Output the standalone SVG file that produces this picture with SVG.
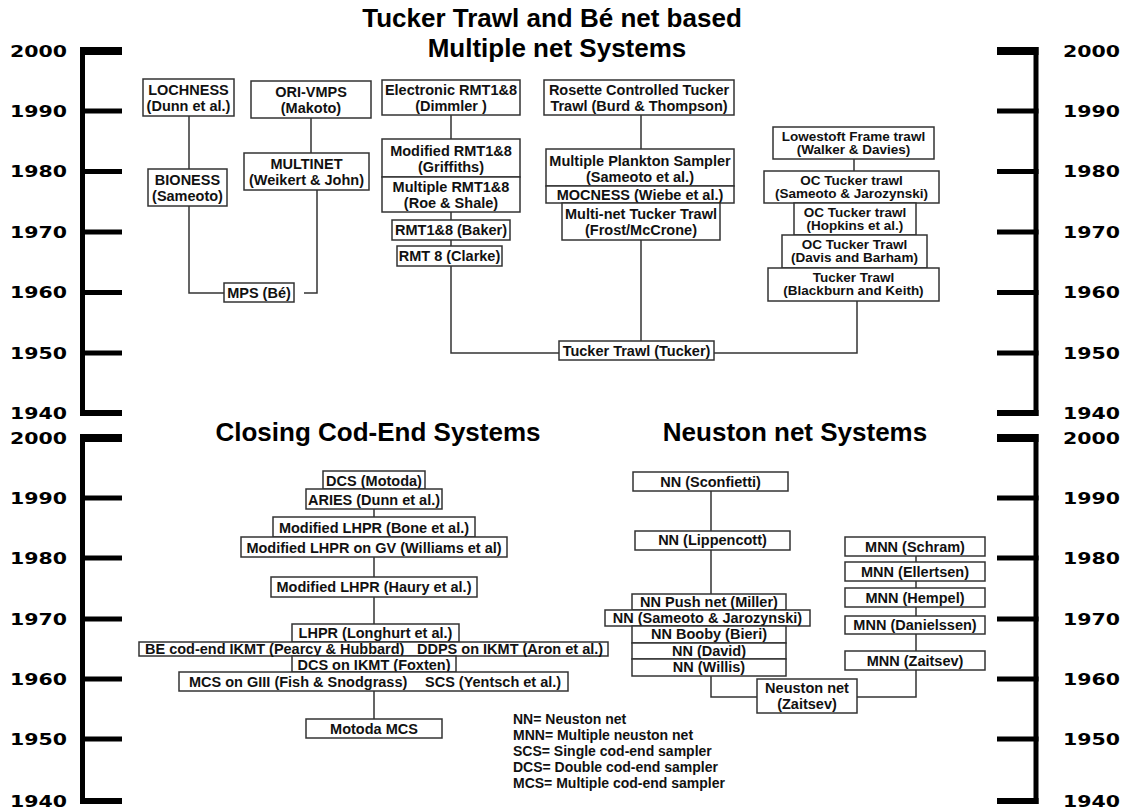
<svg xmlns="http://www.w3.org/2000/svg" width="1130" height="809" viewBox="0 0 1130 809">
<style>
.b{fill:#fff;stroke:#333;stroke-width:1.5}
.t{font-family:"Liberation Sans",Arial,sans-serif;font-weight:bold;font-size:14.5px;fill:#111;text-anchor:middle}
.s{font-size:13.5px}
.tl{font-family:"Liberation Sans",Arial,sans-serif;font-weight:bold;font-size:14.5px;fill:#111}
.h{font-family:"Liberation Sans",Arial,sans-serif;font-weight:bold;font-size:26px;fill:#000;text-anchor:middle}
.y{font-family:"DejaVu Sans",sans-serif;font-weight:bold;font-size:15px;fill:#000}
.ax{stroke:#000;stroke-width:5;fill:none}
.c{stroke:#333;stroke-width:1.5;fill:none}
.lg{font-family:"Liberation Sans",Arial,sans-serif;font-weight:bold;font-size:14px;fill:#111}
</style>
<g id="titles">
<text class="h" x="552" y="27">Tucker Trawl and Bé net based</text>
<text class="h" x="557" y="57">Multiple net Systems</text>
<text class="h" x="378" y="441">Closing Cod-End Systems</text>
<text class="h" x="795" y="441">Neuston net Systems</text>
</g>
<g id="axes">
<path class="ax" d="M82.5,47V416M1036,47V416M82.5,434V804M1036,434V804"/>
<path class="ax" d="M80,111H122M80,171.5H122M80,232H122M80,292.5H122M80,353H122M80,498H122M80,558H122M80,619H122M80,679H122M80,739H122"/>
<path class="ax" d="M997,111H1038.5M997,171.5H1038.5M997,232H1038.5M997,292.5H1038.5M997,353H1038.5M997,498H1038.5M997,558H1038.5M997,619H1038.5M997,679H1038.5M997,739H1038.5"/>
<rect x="80" y="47" width="42" height="8"/><rect x="80" y="410" width="42" height="6"/>
<rect x="80" y="434" width="42" height="8"/><rect x="80" y="798" width="42" height="6"/>
<rect x="997" y="47" width="41.5" height="8"/><rect x="997" y="410" width="41.5" height="6"/>
<rect x="997" y="434" width="41.5" height="8"/><rect x="997" y="798" width="41.5" height="6"/>
<g class="y">
<text x="10" y="57" textLength="57" lengthAdjust="spacingAndGlyphs">2000</text>
<text x="10" y="117" textLength="57" lengthAdjust="spacingAndGlyphs">1990</text>
<text x="10" y="177" textLength="57" lengthAdjust="spacingAndGlyphs">1980</text>
<text x="10" y="238" textLength="57" lengthAdjust="spacingAndGlyphs">1970</text>
<text x="10" y="298" textLength="57" lengthAdjust="spacingAndGlyphs">1960</text>
<text x="10" y="359" textLength="57" lengthAdjust="spacingAndGlyphs">1950</text>
<text x="10" y="419" textLength="57" lengthAdjust="spacingAndGlyphs">1940</text>
<text x="10" y="444" textLength="57" lengthAdjust="spacingAndGlyphs">2000</text>
<text x="10" y="504" textLength="57" lengthAdjust="spacingAndGlyphs">1990</text>
<text x="10" y="564" textLength="57" lengthAdjust="spacingAndGlyphs">1980</text>
<text x="10" y="625" textLength="57" lengthAdjust="spacingAndGlyphs">1970</text>
<text x="10" y="685" textLength="57" lengthAdjust="spacingAndGlyphs">1960</text>
<text x="10" y="745" textLength="57" lengthAdjust="spacingAndGlyphs">1950</text>
<text x="10" y="807" textLength="57" lengthAdjust="spacingAndGlyphs">1940</text>
<text x="1063" y="57" textLength="57" lengthAdjust="spacingAndGlyphs">2000</text>
<text x="1063" y="117" textLength="57" lengthAdjust="spacingAndGlyphs">1990</text>
<text x="1063" y="177" textLength="57" lengthAdjust="spacingAndGlyphs">1980</text>
<text x="1063" y="238" textLength="57" lengthAdjust="spacingAndGlyphs">1970</text>
<text x="1063" y="298" textLength="57" lengthAdjust="spacingAndGlyphs">1960</text>
<text x="1063" y="359" textLength="57" lengthAdjust="spacingAndGlyphs">1950</text>
<text x="1063" y="419" textLength="57" lengthAdjust="spacingAndGlyphs">1940</text>
<text x="1063" y="444" textLength="57" lengthAdjust="spacingAndGlyphs">2000</text>
<text x="1063" y="504" textLength="57" lengthAdjust="spacingAndGlyphs">1990</text>
<text x="1063" y="564" textLength="57" lengthAdjust="spacingAndGlyphs">1980</text>
<text x="1063" y="625" textLength="57" lengthAdjust="spacingAndGlyphs">1970</text>
<text x="1063" y="685" textLength="57" lengthAdjust="spacingAndGlyphs">1960</text>
<text x="1063" y="745" textLength="57" lengthAdjust="spacingAndGlyphs">1950</text>
<text x="1063" y="807" textLength="57" lengthAdjust="spacingAndGlyphs">1940</text>
</g>
</g>
<g id="connectors">
<path class="c" d="M189,116V169M189,206V293H224M311,118V153M317,190V293H304"/>
<path class="c" d="M451,115V139M451,212V220M451,240V246M451,266V353H559M641,115V149M641,240V341M714,353H857V301M854,159V171"/>
<path class="c" d="M374,509V517M374,557V577M374,597V624M374,691V719"/>
<path class="c" d="M711,491V531M711,550V594M711,676V697H757M857,697H916V670M916,556V562M916,581V588M916,607V616M916,634V651"/>
</g>
<g id="n-lochness"><rect class="b" x="143" y="79" width="91" height="37"/><text class="t" x="188.5" y="95">LOCHNESS</text><text class="t" x="188.5" y="111">(Dunn et al.)</text></g>
<g id="n-orivmps"><rect class="b" x="251" y="81" width="120" height="37"/><text class="t" x="311" y="97">ORI-VMPS</text><text class="t" x="311" y="113">(Makoto)</text></g>
<g id="n-bioness"><rect class="b" x="148" y="169" width="79" height="37"/><text class="t" x="187.5" y="185">BIONESS</text><text class="t" x="187.5" y="201">(Sameoto)</text></g>
<g id="n-multinet"><rect class="b" x="244" y="153" width="125" height="37"/><text class="t" x="306.5" y="169">MULTINET</text><text class="t" x="306.5" y="185">(Weikert &amp; John)</text></g>
<g id="n-mps"><rect class="b" x="224" y="283" width="70" height="19"/><text class="t" x="259" y="298">MPS (Bé)</text></g>
<g id="n-ermt"><rect class="b" x="382" y="80" width="138" height="35"/><text class="t" x="451" y="95">Electronic RMT1&amp;8</text><text class="t" x="451" y="111">(Dimmler )</text></g>
<g id="n-mrmt"><rect class="b" x="382" y="139" width="138" height="38"/><text class="t" x="451" y="156">Modified RMT1&amp;8</text><text class="t" x="451" y="172">(Griffiths)</text></g>
<g id="n-multrmt"><rect class="b" x="382" y="177" width="138" height="35"/><text class="t" x="451" y="192">Multiple RMT1&amp;8</text><text class="t" x="451" y="208">(Roe &amp; Shale)</text></g>
<g id="n-rmtbaker"><rect class="b" x="392" y="220" width="118" height="20"/><text class="t" x="451" y="235">RMT1&amp;8 (Baker)</text></g>
<g id="n-rmtclarke"><rect class="b" x="397" y="246" width="105" height="20"/><text class="t" x="449.5" y="261">RMT 8 (Clarke)</text></g>
<g id="n-rosette"><rect class="b" x="544" y="80" width="190" height="35"/><text class="t" x="639" y="95">Rosette Controlled Tucker</text><text class="t" x="639" y="111">Trawl (Burd &amp; Thompson)</text></g>
<g id="n-mps2"><rect class="b" x="546" y="149" width="188" height="37"/><text class="t" x="640" y="166">Multiple Plankton Sampler</text><text class="t" x="640" y="182">(Sameoto et al.)</text></g>
<g id="n-mocness"><rect class="b" x="546" y="186" width="188" height="17"/><text class="t" x="640" y="200">MOCNESS (Wiebe et al.)</text></g>
<g id="n-multinettucker"><rect class="b" x="562" y="203" width="158" height="37"/><text class="t" x="641" y="219">Multi-net Tucker Trawl</text><text class="t" x="641" y="235">(Frost/McCrone)</text></g>
<g id="n-tucker"><rect class="b" x="559" y="341" width="155" height="19"/><text class="t" x="636.5" y="356">Tucker Trawl (Tucker)</text></g>
<g id="n-lowestoft"><rect class="b" x="773" y="127" width="161" height="32"/><text class="t s" x="853.5" y="141">Lowestoft Frame trawl</text><text class="t s" x="853.5" y="154">(Walker &amp; Davies)</text></g>
<g id="n-ocsam"><rect class="b" x="764" y="171" width="175" height="32"/><text class="t s" x="851.5" y="185">OC Tucker trawl</text><text class="t s" x="851.5" y="198">(Sameoto &amp; Jarozynski)</text></g>
<g id="n-ochop"><rect class="b" x="794" y="203" width="122" height="32"/><text class="t s" x="855" y="217">OC Tucker trawl</text><text class="t s" x="855" y="230">(Hopkins et al.)</text></g>
<g id="n-ocdav"><rect class="b" x="782" y="235" width="145" height="33"/><text class="t s" x="854.5" y="249">OC Tucker Trawl</text><text class="t s" x="854.5" y="262">(Davis and Barham)</text></g>
<g id="n-tuckerbk"><rect class="b" x="768" y="268" width="171" height="33"/><text class="t s" x="853.5" y="282">Tucker Trawl</text><text class="t s" x="853.5" y="295">(Blackburn and Keith)</text></g>
<g id="n-dcsmotoda"><rect class="b" x="323" y="471" width="102" height="18"/><text class="t" x="374" y="486">DCS (Motoda)</text></g>
<g id="n-aries"><rect class="b" x="306" y="489" width="136" height="20"/><text class="t" x="374" y="505">ARIES (Dunn et al.)</text></g>
<g id="n-mlhprbone"><rect class="b" x="273" y="517" width="202" height="20"/><text class="t" x="374" y="533">Modified LHPR (Bone et al.)</text></g>
<g id="n-mlhprgv"><rect class="b" x="241" y="537" width="266" height="20"/><text class="t" x="374" y="553">Modified LHPR on GV (Williams et al)</text></g>
<g id="n-mlhprhaury"><rect class="b" x="271" y="577" width="206" height="20"/><text class="t" x="374" y="592">Modified LHPR (Haury et al.)</text></g>
<g id="n-lhpr"><rect class="b" x="292" y="624" width="167" height="18"/><text class="t" x="375.5" y="638">LHPR (Longhurt et al.)</text></g>
<g id="n-becodend"><rect class="b" x="139" y="642" width="469" height="14"/><text class="tl" x="145" y="654">BE cod-end IKMT (Pearcy &amp; Hubbard)</text><text class="tl" x="417" y="654">DDPS on IKMT (Aron et al.)</text></g>
<g id="n-dcsikmt"><rect class="b" x="292" y="656" width="164" height="16"/><text class="t" x="374" y="670">DCS on IKMT (Foxten)</text></g>
<g id="n-mcsgiii"><rect class="b" x="179" y="672" width="389" height="19"/><text class="tl" x="189" y="687">MCS on GIII (Fish &amp; Snodgrass)</text><text class="tl" x="425" y="687">SCS (Yentsch et al.)</text></g>
<g id="n-motodamcs"><rect class="b" x="306" y="719" width="136" height="19"/><text class="t" x="374" y="734">Motoda MCS</text></g>
<g id="n-nnscon"><rect class="b" x="633" y="472" width="155" height="19"/><text class="t" x="710.5" y="487">NN (Sconfietti)</text></g>
<g id="n-nnlipp"><rect class="b" x="635" y="531" width="155" height="19"/><text class="t" x="712.5" y="545">NN (Lippencott)</text></g>
<g id="n-nnpush"><rect class="b" x="632" y="594" width="154" height="16"/><text class="t" x="709" y="607">NN Push net (Miller)</text></g>
<g id="n-nnsam"><rect class="b" x="605" y="610" width="205" height="16"/><text class="t" x="707.5" y="623">NN (Sameoto &amp; Jarozynski)</text></g>
<g id="n-nnbooby"><rect class="b" x="632" y="626" width="154" height="17"/><text class="t" x="709" y="639">NN Booby (Bieri)</text></g>
<g id="n-nndavid"><rect class="b" x="632" y="643" width="154" height="16"/><text class="t" x="709" y="656">NN (David)</text></g>
<g id="n-nnwillis"><rect class="b" x="632" y="659" width="154" height="17"/><text class="t" x="709" y="672">NN (Willis)</text></g>
<g id="n-neuston"><rect class="b" x="757" y="679" width="100" height="34"/><text class="t" x="807" y="693">Neuston net</text><text class="t" x="807" y="709">(Zaitsev)</text></g>
<g id="n-mnnschram"><rect class="b" x="845" y="537" width="140" height="19"/><text class="t" x="915" y="552">MNN (Schram)</text></g>
<g id="n-mnnell"><rect class="b" x="845" y="562" width="140" height="19"/><text class="t" x="915" y="577">MNN (Ellertsen)</text></g>
<g id="n-mnnhem"><rect class="b" x="845" y="588" width="140" height="19"/><text class="t" x="915" y="603">MNN (Hempel)</text></g>
<g id="n-mnndan"><rect class="b" x="845" y="616" width="140" height="18"/><text class="t" x="915" y="630">MNN (Danielssen)</text></g>
<g id="n-mnnzai"><rect class="b" x="845" y="651" width="140" height="19"/><text class="t" x="915" y="666">MNN (Zaitsev)</text></g>
<g id="legend" class="lg">
<text x="513" y="724">NN= Neuston net</text>
<text x="513" y="740">MNN= Multiple neuston net</text>
<text x="513" y="756">SCS= Single cod-end sampler</text>
<text x="513" y="772">DCS= Double cod-end sampler</text>
<text x="513" y="788">MCS= Multiple cod-end sampler</text>
</g>
</svg>
